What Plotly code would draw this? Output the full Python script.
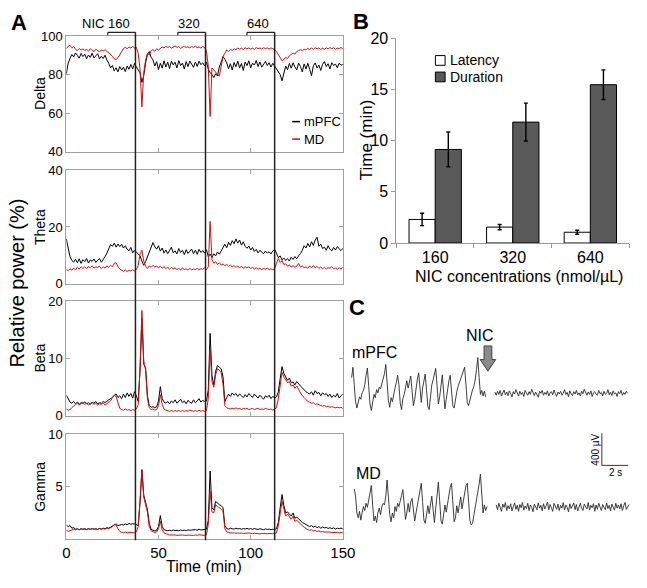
import numpy as np
import plotly.graph_objects as go

W, H = 647, 588

# ---------------- DATA ----------------
delta_mpfc = [80.5, 86.0, 88.5, 90.5, 89.2, 91.3, 90.0, 88.6, 91.0, 89.4,
              90.6, 88.3, 90.2, 89.0, 91.2, 88.7, 89.8, 90.9, 88.2, 89.6,
              88.4, 90.1, 87.6, 86.0, 83.5, 84.8, 82.0, 83.6, 81.5, 84.2,
              82.4, 83.9, 81.6, 84.5, 82.8, 85.3, 83.0, 85.8, 84.0, 82.5,
              81.0, 76.0, 79.5, 86.0, 90.5, 92.0, 89.0, 87.7, 84.5, 86.8,
              82.6, 85.9, 83.4, 87.2, 84.0, 86.5, 83.2, 87.0, 85.1, 86.4,
              83.5, 87.3, 84.8, 86.0, 82.9, 86.8, 84.2, 87.1, 85.0, 83.8,
              86.6, 84.3, 87.0, 85.2, 86.1, 84.6, 86.5, 83.0, 81.0, 80.2,
              78.5, 80.5, 79.3, 84.0, 86.5, 89.4, 88.0, 86.2, 83.1, 85.7,
              82.4, 86.3, 84.1, 87.0, 83.5, 85.8, 82.2, 86.6, 84.7, 87.2,
              83.6, 86.0, 85.0, 87.4, 84.2, 86.6, 83.9, 85.5, 86.9, 84.8,
              86.2, 84.0, 85.9, 84.5, 83.0, 81.5, 80.0, 76.8, 80.5, 84.5,
              82.6, 85.8, 83.4, 86.2, 84.0, 82.5, 86.0, 84.3, 81.4, 85.6,
              83.0, 85.9, 82.8, 79.5, 84.6, 86.1, 83.5, 85.0, 82.2, 85.4,
              86.8, 84.2, 85.7, 83.0, 86.2, 84.8, 85.5, 83.6, 86.0, 84.9, 85.3]
delta_md = [93.5, 94.8, 95.2, 94.0, 94.6, 93.2, 92.5, 93.6, 92.8, 93.4,
            92.6, 93.1, 92.2, 93.5, 92.7, 92.0, 93.2, 92.5, 91.8, 92.9,
            92.3, 93.0, 92.1, 91.5, 90.8, 89.6, 88.2, 87.9, 88.8, 90.5,
            92.4, 93.6, 94.2, 93.5, 94.4, 93.8, 94.6, 93.9, 94.2, 91.0,
            82.7, 63.3, 81.0, 87.5, 91.0, 90.2, 92.5, 93.0, 92.2, 93.4,
            92.8, 93.6, 94.4, 93.9, 94.7, 94.1, 94.6, 93.8, 94.5, 94.9,
            94.2, 94.6, 93.7, 94.4, 94.8, 94.1, 94.5, 93.9, 94.6, 94.2,
            94.8, 94.0, 94.4, 93.8, 94.6, 94.1, 92.5, 84.4, 58.3, 83.5,
            82.2, 81.0, 80.2, 79.3, 84.0, 89.4, 91.2, 92.8, 92.0, 93.1,
            92.6, 93.4, 93.0, 93.8, 93.2, 93.7, 93.1, 94.0, 93.4, 93.9,
            93.3, 93.8, 93.2, 94.1, 93.5, 93.9, 93.4, 94.0, 93.6, 93.9,
            93.3, 93.9, 93.5, 93.0, 92.0, 90.5, 88.5, 87.2, 88.0, 89.0,
            88.4, 89.8, 90.5, 91.2, 90.7, 92.0, 92.6, 93.0, 92.5, 93.3,
            92.8, 93.6, 93.0, 93.8, 93.2, 94.0, 93.4, 93.9, 93.1, 93.7,
            93.2, 93.9, 93.4, 94.1, 93.5, 94.0, 93.3, 93.8, 93.6, 94.1, 93.5]
theta_mpfc = [15.8, 12.0, 9.5, 8.2, 7.6, 8.6, 7.4, 8.8, 7.2, 8.5,
              7.8, 8.9, 7.3, 8.4, 7.9, 8.7, 7.5, 8.3, 8.9, 7.6,
              8.4, 9.6, 10.8, 12.4, 13.8, 13.2, 14.3, 12.9, 14.0, 13.1,
              13.9, 12.6, 13.4, 12.2, 11.6, 12.8, 10.9, 11.8, 11.2, 10.4,
              9.8, 8.0, 6.5, 7.8, 9.5, 11.2, 12.8, 14.5, 13.0, 12.2,
              13.4, 11.5, 12.6, 10.8, 11.9, 10.6, 11.7, 12.9, 10.9, 11.6,
              10.5, 12.4, 11.0, 11.8, 10.3, 12.0, 10.7, 11.4, 12.2, 10.6,
              11.8, 10.4, 12.1, 11.0, 11.7, 10.8, 12.0, 9.6, 10.5, 9.3,
              10.6, 9.8, 11.2, 10.4, 11.6, 12.8, 13.9, 12.7, 14.6, 13.5,
              15.2, 14.1, 15.8, 14.3, 15.4, 13.6, 14.8, 13.2, 12.5, 13.3,
              11.9, 12.8, 11.4, 12.1, 10.9, 11.8, 11.2, 10.6, 11.5, 10.8,
              11.3, 10.5, 11.6, 12.1, 10.8, 9.2, 9.8, 8.4, 9.1, 8.2,
              8.9, 8.0, 9.3, 8.6, 9.6, 8.8, 9.9, 10.6, 11.8, 13.4,
              12.6, 14.2, 13.0, 14.8, 13.5, 15.4, 16.4, 13.2, 14.0, 12.4,
              12.9, 11.8, 13.4, 12.2, 11.6, 12.8, 11.9, 13.1, 12.3, 11.7, 12.5]
theta_md = [5.0, 4.6, 5.3, 4.8, 5.5, 4.9, 5.8, 5.2, 6.0, 5.4,
            5.9, 5.3, 6.1, 5.6, 6.3, 5.5, 6.0, 5.7, 6.2, 5.4,
            6.0, 5.5, 6.3, 5.8, 6.5, 6.0, 7.2, 7.4, 6.1, 5.2,
            4.8, 4.4, 4.9, 4.3, 4.7, 4.5, 4.9, 4.6, 5.0, 6.5,
            10.5, 11.8, 8.0, 6.2, 5.4, 6.3, 5.8, 6.5, 5.9, 6.2,
            5.7, 6.1, 5.5, 6.0, 5.4, 5.8, 5.2, 5.7, 5.3, 5.6,
            5.0, 5.4, 4.9, 5.5, 5.0, 5.3, 4.8, 5.4, 4.9, 5.2,
            5.0, 5.5, 4.9, 5.3, 5.1, 5.6, 5.0, 6.0, 22.0, 8.5,
            7.2, 7.8, 6.8, 7.4, 6.6, 7.0, 6.4, 6.8, 6.2, 6.6,
            6.0, 6.4, 5.8, 6.2, 5.7, 6.1, 5.5, 6.0, 5.6, 5.9,
            5.4, 5.8, 5.2, 5.6, 5.1, 5.5, 5.0, 5.4, 5.1, 5.5,
            5.0, 5.3, 4.9, 5.4, 7.2, 8.9, 7.5, 8.2, 6.8, 7.0,
            6.2, 6.6, 5.9, 6.4, 5.8, 6.2, 7.2, 5.9, 6.3, 5.6,
            6.0, 5.5, 6.2, 5.7, 6.4, 5.6, 6.1, 5.4, 5.9, 5.3,
            5.8, 5.2, 5.7, 5.4, 6.0, 5.3, 5.6, 5.1, 5.7, 5.2, 5.8]
beta_mpfc = [3.6, 3.0, 2.4, 2.2, 2.5, 2.1, 2.4, 2.0, 2.3, 2.2,
             2.4, 2.1, 2.3, 2.0, 2.4, 2.2, 2.5, 2.1, 2.3, 2.2,
             2.5, 2.3, 2.6, 2.8, 3.0, 3.2, 3.6, 3.8, 3.2, 3.5,
             3.0, 3.8, 3.2, 4.0, 3.4, 3.9, 3.1, 4.2, 3.5, 2.5,
             8.0, 17.0, 9.0, 8.4, 3.5, 1.8, 1.5, 1.6, 1.4, 1.6,
             2.6, 5.1, 3.0, 2.4, 2.2, 2.5, 2.1, 2.6, 2.3, 2.8,
             2.2, 2.5, 2.9, 2.3, 2.6, 2.1, 2.7, 2.4, 2.2, 2.8,
             2.3, 2.6, 3.0, 2.4, 2.7, 2.5, 2.6, 4.5, 14.4, 7.0,
             5.4, 7.8, 8.8, 8.5, 8.2, 6.8, 2.5, 3.2, 3.8, 3.4,
             4.0, 3.6, 3.9, 3.4, 3.8, 3.5, 3.2, 3.7, 3.3, 3.9,
             3.5, 3.2, 3.8, 3.4, 3.1, 3.6, 3.3, 2.9, 3.5, 3.2,
             3.6, 3.0, 3.4, 3.1, 3.3, 4.2, 6.5, 8.6, 7.4, 6.8,
             6.2, 6.6, 5.8, 5.9, 5.4, 6.0, 5.5, 5.2, 4.9, 4.5,
             4.2, 4.0, 3.8, 4.2, 3.6, 4.4, 3.9, 4.1, 3.5, 4.0,
             3.7, 3.9, 3.4, 3.8, 3.2, 3.6, 3.3, 3.9, 3.1, 3.5, 3.8]
beta_md = [1.2, 1.0, 1.1, 1.4, 1.8, 2.0, 2.2, 1.9, 2.1, 2.3,
           2.0, 2.2, 1.9, 2.1, 2.3, 2.0, 2.2, 1.9, 2.1, 2.0,
           2.2, 1.9, 2.1, 2.3, 2.6, 3.2, 3.6, 3.4, 2.2, 1.3,
           1.1, 1.0, 1.2, 1.0, 1.1, 0.9, 1.1, 1.0, 1.2, 2.0,
           8.5, 18.4, 9.5, 8.0, 3.0, 1.4, 1.1, 1.2, 1.0, 1.1,
           1.8, 3.7, 2.0, 1.2, 1.0, 0.9, 0.8, 0.9, 0.8, 0.9,
           0.8, 0.9, 0.8, 0.9, 0.8, 0.9, 0.8, 1.0, 0.9, 0.8,
           0.9, 0.8, 1.0, 0.8, 0.9, 0.8, 0.9, 3.0, 11.6, 6.0,
           5.0, 7.2, 8.2, 8.0, 7.5, 5.5, 1.8, 1.4, 1.3, 1.2,
           1.3, 1.2, 1.4, 1.2, 1.3, 1.1, 1.3, 1.2, 1.3, 1.1,
           1.2, 1.3, 1.1, 1.2, 1.3, 1.1, 1.2, 1.1, 1.3, 1.2,
           1.1, 1.2, 1.0, 1.2, 1.4, 3.0, 5.5, 7.6, 6.8, 6.2,
           5.8, 6.0, 5.2, 5.4, 4.8, 5.2, 4.6, 4.0, 3.5, 3.2,
           2.8, 2.5, 2.4, 2.2, 2.3, 2.0, 2.1, 1.9, 1.8, 1.7,
           1.8, 1.6, 1.7, 1.5, 1.6, 1.5, 1.4, 1.5, 1.4, 1.5, 1.3]
gamma_mpfc = [1.35, 1.20, 1.30, 1.05, 1.10, 0.95, 1.00, 0.90, 1.00, 0.95,
              1.00, 0.92, 1.00, 0.95, 1.02, 0.95, 1.00, 0.93, 1.02, 0.97,
              1.05, 1.00, 1.10, 1.05, 1.15, 1.25, 1.40, 1.45, 1.30, 1.35,
              1.40, 1.35, 1.45, 1.38, 1.50, 1.42, 1.48, 1.45, 1.40, 1.30,
              3.50, 6.60, 4.20, 3.50, 2.80, 1.50, 0.95, 0.85, 0.80, 0.85,
              1.20, 2.25, 1.20, 0.90, 0.85, 0.80, 0.85, 0.80, 0.88, 0.82,
              0.85, 0.80, 0.88, 0.82, 0.86, 0.80, 0.90, 0.84, 0.88, 0.92,
              0.90, 0.86, 0.95, 0.88, 0.92, 0.90, 0.95, 1.80, 6.50, 3.00,
              2.80, 3.60, 3.40, 3.30, 3.20, 3.00, 1.30, 1.00, 0.95, 1.05,
              1.00, 0.95, 1.05, 0.98, 1.02, 0.95, 1.00, 0.97, 1.03, 0.96,
              1.00, 0.94, 1.02, 0.96, 0.92, 1.00, 0.95, 0.90, 0.98, 0.93,
              0.96, 0.90, 0.95, 0.92, 1.00, 1.60, 3.00, 4.26, 3.20, 2.50,
              2.60, 2.40, 2.20, 2.50, 2.00, 2.10, 1.90, 1.80, 1.60, 1.50,
              1.40, 1.27, 1.20, 1.30, 1.15, 1.25, 1.10, 1.20, 1.05, 1.15,
              1.08, 1.12, 1.02, 1.10, 1.00, 1.08, 0.98, 1.05, 1.00, 1.06, 0.98]
gamma_md = [0.85, 0.75, 0.80, 0.90, 0.95, 0.88, 0.95, 0.90, 0.98, 0.92,
            0.95, 0.90, 0.98, 0.93, 1.00, 0.92, 0.97, 0.94, 1.00, 0.95,
            1.00, 0.96, 1.05, 1.00, 1.10, 1.20, 1.40, 1.35, 1.00, 0.75,
            0.65, 0.62, 0.68, 0.60, 0.66, 0.62, 0.65, 0.60, 0.70, 1.20,
            3.80, 6.66, 4.00, 3.30, 2.60, 1.20, 0.80, 0.70, 0.65, 0.68,
            1.00, 1.70, 0.90, 0.60, 0.50, 0.45, 0.40, 0.42, 0.38, 0.40,
            0.37, 0.40, 0.36, 0.40, 0.38, 0.35, 0.40, 0.37, 0.40, 0.36,
            0.40, 0.37, 0.42, 0.38, 0.40, 0.36, 0.42, 1.40, 4.60, 2.60,
            2.50, 3.30, 3.10, 3.00, 2.90, 2.70, 1.00, 0.70, 0.62, 0.60,
            0.58, 0.62, 0.55, 0.60, 0.56, 0.60, 0.54, 0.58, 0.55, 0.60,
            0.55, 0.52, 0.57, 0.53, 0.55, 0.50, 0.54, 0.51, 0.55, 0.52,
            0.54, 0.50, 0.53, 0.52, 0.60, 1.30, 2.70, 3.60, 2.90, 2.20,
            2.40, 2.10, 1.90, 2.20, 1.70, 1.80, 1.60, 1.40, 1.30, 1.15,
            1.00, 0.90, 0.85, 0.90, 0.80, 0.82, 0.75, 0.78, 0.70, 0.74,
            0.68, 0.70, 0.65, 0.68, 0.63, 0.66, 0.62, 0.65, 0.60, 0.64, 0.60]

band_names = ["Delta", "Theta", "Beta", "Gamma"]
band_mpfc = [delta_mpfc, theta_mpfc, beta_mpfc, gamma_mpfc]
band_md = [delta_md, theta_md, beta_md, gamma_md]
band_ranges = [[40, 100], [0, 40], [0, 20], [0, 10]]
band_ticks = [[40, 60, 80, 100], [0, 20, 40], [0, 10, 20], [5, 10]]
time_ticks = [0, 50, 100, 150]

injection_min = [37.5, 75.5, 113.0]
injection_labels = ["NIC 160", "320", "640"]
bracket_len_min = 15

nic_doses = ["160", "320", "640"]
latency = [2.3, 1.55, 1.05]
latency_err = [0.6, 0.25, 0.2]
duration = [9.13, 11.8, 15.45]
duration_err = [1.7, 1.85, 1.45]

eeg_fs = 10.0
mpfc_pre_start, mpfc_post_start = 0.0, 10.9
md_pre_start, md_post_start = 0.2, 11.0
mpfc_pre = [150, 280, 60, -150, -230, -160, -90, -120, -40, -10,
            60, 180, 270, 40, -180, -260, -150, -60, -100, 0,
            -40, 30, 10, 80, 120, 200, 315, 90, -140, -220,
            -100, -150, -40, 20, 90, 180, 60, -170, -250, -110,
            -60, 40, 110, 20, 120, 170, -20, -200, -120, 30,
            130, 210, 40, -160, 20, 140, 195, -10, -210, -250,
            -80, 60, 120, 200, 265, 50, -180, -90, 80, 185,
            -30, -240, -120, 20, 110, 180, 0, -200, -230, -100,
            -30, 40, 90, 130, 180, 240, 280, 60, -160, -200,
            -120, -60, 0, 40, 120, 250, 400, 150, -60, -10,
            -80, -20, -90]
mpfc_post = [-30, -70, -20, -60, -10, -80, -40, -5, -65, -30,
             -75, -15, -50, -90, -25, -55, 0, -45, -80, -20,
             -60, -35, -85, -10, -50, -70, -25, -60, 5, -40,
             -75, -30, -55, -95, -20, -45, -10, -70, -35, -60,
             -15, -80, -40, -25, -65, -5, -50, -85, -30, -55,
             -20, -70, -45, 0, -60, -35, -90, -15, -50, -75,
             -25, -55, -10, -65, -40, -80, -20, -50, 5, -45,
             -70, -30, -60, -15, -85, -40, -25, -55, -70, -10,
             -50, -35, -80, -20, -60, -45, 0, -65, -30, -75,
             -15, -55, -40, -85, -25, -50, -10, -70, -35, -60,
             -20, -45]
md_pre = [240, 150, -60, -120, -40, -150, -60, 20, -30, 60,
          10, 90, 200, 283, 40, -160, -100, -180, -60, 0,
          -80, 20, 60, 40, 150, 351, 130, -80, -170, -60,
          -120, 20, -40, 60, 20, 110, 160, 230, 50, -140,
          -60, 60, -50, 80, 120, -20, -160, -60, 40, 140,
          220, 311, 80, -150, -190, -60, 30, -70, 60, 150,
          -20, -180, 0, 180, 323, 90, -160, -200, -60, 40,
          -50, 70, 180, 260, 311, 40, -170, -120, 30, -60,
          50, 140, -10, 90, 200, 280, 311, 60, -150, -210,
          -190, -90, 0, 90, 180, 300, 424, 120, -60, 40,
          -30, 20]
md_post = [40, -20, 60, 0, -40, 50, 10, 70, -30, 30,
           -10, 55, -35, 20, 65, -15, 35, -40, 45, 5,
           70, -25, 25, -5, 60, -30, 40, 10, -45, 50,
           15, -20, 65, 0, 35, -35, 55, -10, 30, 75,
           -20, 45, 5, -40, 60, 20, -15, 50, -30, 35,
           0, 70, -25, 40, 10, -45, 55, -5, 30, 65,
           -20, 45, -35, 25, 60, 0, -30, 50, 15, -10,
           70, -25, 35, 5, 55, -40, 40, -15, 60, 20,
           -30, 45, 10, -20, 65, -5, 35, -35, 50, 15,
           -25, 60, 0, 40, -10, 55, -30, 30, 70, -15,
           25, 45]
scale_uv, scale_s = 400, 2


def X(px):
    return px / W


def Y(py):
    return 1 - py / H


FONT = "Liberation Sans, Arial, sans-serif"
AX_GRAY = "#a0a0a0"
RED = "#cc1111"

fig = go.Figure()
layout = dict(width=W, height=H, margin=dict(l=0, r=0, t=0, b=0, pad=0),
              plot_bgcolor="white", paper_bgcolor="white",
              font=dict(family=FONT, color="black"), showlegend=False,
              barmode="group", bargap=0.325, bargroupgap=0,
              dragmode=False, hovermode=False)
shapes, annos = [], []

panel_px = [(29, 148), (167, 284), (302, 420), (439, 547)]
ax_x0, ax_x1 = 64, 348
for i in range(4):
    n = i + 1
    xa, ya = ("x" if n == 1 else f"x{n}"), ("y" if n == 1 else f"y{n}")
    fig.add_trace(go.Scatter(x=list(range(len(band_mpfc[i]))), y=band_mpfc[i], mode="lines",
                             line=dict(color="black", width=1), name="mPFC", xaxis=xa, yaxis=ya))
    fig.add_trace(go.Scatter(x=list(range(len(band_md[i]))), y=band_md[i], mode="lines",
                             line=dict(color=RED, width=1), name="MD", xaxis=xa, yaxis=ya))
    top, bot = panel_px[i]
    layout["xaxis" if n == 1 else f"xaxis{n}"] = dict(
        domain=[X(ax_x0), X(ax_x1)], range=[0, 150], anchor=ya, tickvals=time_ticks,
        showgrid=False, zeroline=False, showline=True, linecolor=AX_GRAY, linewidth=1,
        mirror="ticks", ticks="inside", ticklen=4, tickcolor=AX_GRAY, fixedrange=True,
        showticklabels=(n == 4), tickfont=dict(size=15))
    layout["yaxis" if n == 1 else f"yaxis{n}"] = dict(
        domain=[Y(bot), Y(top)], range=band_ranges[i], anchor=xa, tickvals=band_ticks[i],
        showgrid=False, zeroline=False, showline=True, linecolor=AX_GRAY, linewidth=1,
        mirror="ticks", ticks="inside", ticklen=4, tickcolor=AX_GRAY, fixedrange=True,
        tickfont=dict(size=13))
    annos.append(dict(xref="paper", yref="paper", x=X(37), y=Y((top + bot) / 2),
                      text=band_names[i], textangle=-90, showarrow=False,
                      font=dict(size=14), xanchor="center", yanchor="middle"))

annos.append(dict(xref="paper", yref="paper", x=X(13), y=Y(283), text="Relative power (%)",
                  textangle=-90, showarrow=False, font=dict(size=20),
                  xanchor="center", yanchor="middle"))
annos.append(dict(xref="paper", yref="paper", x=X(205), y=Y(575), text="Time (min)",
                  showarrow=False, font=dict(size=16), xanchor="center", yanchor="middle"))

for t, lab in zip(injection_min, injection_labels):
    shapes.append(dict(type="line", xref="x4", yref="paper", x0=t, x1=t, y0=Y(548), y1=Y(25),
                       line=dict(color="#222222", width=1.5)))
    shapes.append(dict(type="line", xref="x4", yref="paper", x0=t - bracket_len_min, x1=t,
                       y0=Y(25), y1=Y(25), line=dict(color="#222222", width=1.2)))
    shapes.append(dict(type="line", xref="x4", yref="paper", x0=t - bracket_len_min,
                       x1=t - bracket_len_min, y0=Y(25), y1=Y(28),
                       line=dict(color="#222222", width=1.2)))
    annos.append(dict(xref="x4", yref="paper", x=t - 1.8, y=Y(16), text=lab, showarrow=False,
                      font=dict(size=13), xanchor="right", yanchor="middle"))

for yy, col, lab in [(117, "black", "mPFC"), (135, RED, "MD")]:
    shapes.append(dict(type="line", xref="paper", yref="paper", x0=X(296), x1=X(304),
                       y0=Y(yy), y1=Y(yy), line=dict(color=col, width=1.5)))
    annos.append(dict(xref="paper", yref="paper", x=X(306), y=Y(yy), text=lab, showarrow=False,
                      font=dict(size=13), xanchor="left", yanchor="middle"))

fig.add_trace(go.Bar(x=nic_doses, y=latency, name="Latency", xaxis="x5", yaxis="y5",
                     marker=dict(color="white", line=dict(color="black", width=1)),
                     error_y=dict(type="data", array=latency_err, color="black",
                                  thickness=1.4, width=2)))
fig.add_trace(go.Bar(x=nic_doses, y=duration, name="Duration", xaxis="x5", yaxis="y5",
                     marker=dict(color="#595959", line=dict(color="black", width=1)),
                     error_y=dict(type="data", array=duration_err, color="black",
                                  thickness=1.4, width=2)))
layout["xaxis5"] = dict(domain=[X(403), X(642)], anchor="y5", showgrid=False, zeroline=False,
                        showline=True, linecolor="#999999", ticks="outside", tickson="boundaries",
                        ticklen=4, tickcolor="#999999", tickfont=dict(size=16), fixedrange=True)
layout["yaxis5"] = dict(domain=[Y(242), Y(31)], anchor="x5", range=[0, 20], dtick=5,
                        showgrid=False, zeroline=False, showline=True, linecolor="#999999",
                        ticks="outside", ticklen=4, tickcolor="#999999", tickfont=dict(size=16),
                        fixedrange=True)
annos.append(dict(xref="paper", yref="paper", x=X(372), y=Y(136), text="Time (min)",
                  textangle=-90, showarrow=False, font=dict(size=17),
                  xanchor="center", yanchor="middle"))
annos.append(dict(xref="paper", yref="paper", x=X(529), y=Y(277),
                  text="NIC concentrations (nmol/µL)", showarrow=False, font=dict(size=16),
                  xanchor="center", yanchor="middle"))
for yy, col, lab in [(54, "white", "Latency"), (71, "#595959", "Duration")]:
    shapes.append(dict(type="rect", xref="paper", yref="paper", x0=X(443), x1=X(453),
                       y0=Y(yy + 5), y1=Y(yy - 5), fillcolor=col,
                       line=dict(color="black", width=1)))
    annos.append(dict(xref="paper", yref="paper", x=X(456), y=Y(yy), text=lab, showarrow=False,
                      font=dict(size=14), xanchor="left", yanchor="middle"))

mpfc_offset, md_offset = 1903, 424
segments = [(mpfc_pre, mpfc_pre_start, mpfc_offset), (mpfc_post, mpfc_post_start, mpfc_offset),
            (md_pre, md_pre_start, md_offset), (md_post, md_post_start, md_offset)]
for vals, t0, off in segments:
    tt = t0 + np.arange(len(vals)) / eeg_fs
    fig.add_trace(go.Scatter(x=tt, y=np.array(vals) + off, mode="lines",
                             line=dict(color="#2a2a2a", width=0.9), xaxis="x6", yaxis="y6"))
layout["xaxis6"] = dict(domain=[X(350), X(646)], range=[-0.5185, 21.41], anchor="y6",
                        visible=False, fixedrange=True)
layout["yaxis6"] = dict(domain=[Y(550), Y(340)], range=[0, 2545.5], anchor="x6", visible=False,
                        fixedrange=True)

sb_t, sb_v = 19.04, 957.5
shapes.append(dict(type="line", xref="x6", yref="y6", x0=sb_t, x1=sb_t, y0=sb_v,
                   y1=sb_v + scale_uv, line=dict(color="#333333", width=1)))
shapes.append(dict(type="line", xref="x6", yref="y6", x0=sb_t, x1=sb_t + scale_s, y0=sb_v,
                   y1=sb_v, line=dict(color="#333333", width=1)))
annos.append(dict(xref="x6", yref="y6", x=sb_t - 0.5, y=sb_v + scale_uv / 2,
                  text=f"{scale_uv} µV", textangle=-90, showarrow=False, font=dict(size=10),
                  xanchor="center", yanchor="middle"))
annos.append(dict(xref="x6", yref="y6", x=sb_t + scale_s / 2, y=sb_v - 90,
                  text=f"{scale_s} s", showarrow=False, font=dict(size=10),
                  xanchor="center", yanchor="middle"))
annos.append(dict(xref="paper", yref="paper", x=X(381), y=Y(355), text="mPFC", showarrow=False,
                  font=dict(size=16), xanchor="center", yanchor="middle"))
annos.append(dict(xref="paper", yref="paper", x=X(374), y=Y(479), text="MD", showarrow=False,
                  font=dict(size=16), xanchor="center", yanchor="middle"))
annos.append(dict(xref="paper", yref="paper", x=X(489), y=Y(337), text="NIC", showarrow=False,
                  font=dict(size=16), xanchor="center", yanchor="middle"))
arrow_pts = [(493, 348), (501, 348), (501, 362), (505, 362), (497, 374), (489, 362), (493, 362)]
path = "M " + " L ".join(f"{X(px):.5f},{Y(py):.5f}" for px, py in arrow_pts) + " Z"
shapes.append(dict(type="path", xref="paper", yref="paper", path=path, fillcolor="#8a8a8a",
                   line=dict(color="#404040", width=1)))

for lab, px, py in [("A", 15, 15), ("B", 367, 14), ("C", 363, 308)]:
    annos.append(dict(xref="paper", yref="paper", x=X(px), y=Y(py), text=f"<b>{lab}</b>",
                      showarrow=False, font=dict(size=22), xanchor="center", yanchor="middle"))

layout["shapes"] = shapes
layout["annotations"] = annos
fig.update_layout(**layout)
fig.write_html("out.html", config={"displayModeBar": False, "staticPlot": True},
               post_script="document.body.style.margin='0';"
                           "document.documentElement.style.overflow='hidden';")
